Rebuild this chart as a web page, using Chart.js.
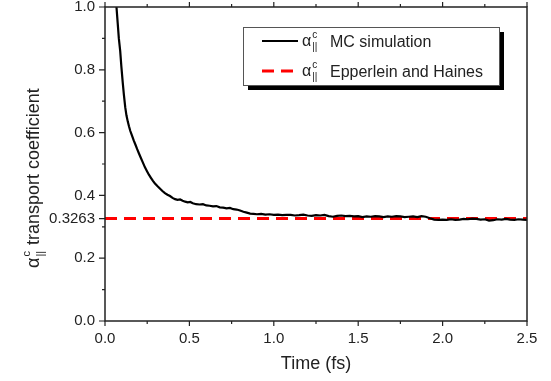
<!DOCTYPE html>
<html lang="en">
<head>
    <meta charset="UTF-8">
    <title>Transport coefficient vs time</title>
    <style>
        html, body { margin: 0; padding: 0; background: #fff; }
        .chart-box { position: relative; width: 551px; height: 381px; }
    </style>
    <script src="https://cdn.jsdelivr.net/npm/chart.js"></script>
</head>
<body>
    <div class="chart-box"><canvas id="coefChart"></canvas></div>

    <script>
        // MC simulation curve
        const timeFs = [
            0.068, 0.075, 0.082, 0.090, 0.097, 0.105, 0.112, 0.120, 0.127, 0.135,
            0.142, 0.150, 0.160, 0.170, 0.180, 0.190, 0.200, 0.212, 0.224, 0.236,
            0.248, 0.260, 0.272, 0.284, 0.296, 0.310, 0.325, 0.340, 0.355, 0.370,
            0.385, 0.400, 0.415, 0.430, 0.445, 0.460, 0.475, 0.490, 0.505, 0.520,
            0.540, 0.560, 0.580, 0.600, 0.620, 0.640, 0.660, 0.680, 0.700, 0.720,
            0.740, 0.760, 0.780, 0.800, 0.820, 0.840, 0.860, 0.880, 0.900, 0.925,
            0.950, 0.975, 1.000, 1.025, 1.050, 1.075, 1.100, 1.125, 1.150, 1.175,
            1.200, 1.225, 1.250, 1.275, 1.300, 1.325, 1.350, 1.375, 1.400, 1.425,
            1.450, 1.475, 1.500, 1.525, 1.550, 1.575, 1.600, 1.625, 1.650, 1.675,
            1.700, 1.725, 1.750, 1.775, 1.800, 1.825, 1.850, 1.875, 1.900, 1.925,
            1.950, 1.975, 2.000, 2.025, 2.050, 2.075, 2.100, 2.125, 2.150, 2.175,
            2.200, 2.225, 2.250, 2.275, 2.300, 2.325, 2.350, 2.375, 2.400, 2.425,
            2.450, 2.475, 2.500
        ];
        const mcValues = [
            1.000, 0.950, 0.900, 0.860, 0.810, 0.760, 0.720, 0.680, 0.655, 0.635,
            0.620, 0.605, 0.590, 0.575, 0.562, 0.548, 0.535, 0.520, 0.505, 0.490,
            0.478, 0.466, 0.456, 0.446, 0.438, 0.430, 0.422, 0.414, 0.407, 0.402,
            0.398, 0.392, 0.388, 0.386, 0.387, 0.383, 0.380, 0.378, 0.379, 0.375,
            0.372, 0.371, 0.372, 0.368, 0.367, 0.365, 0.366, 0.362, 0.361, 0.359,
            0.360, 0.356, 0.355, 0.352, 0.348, 0.345, 0.342, 0.341, 0.340, 0.341,
            0.339, 0.340, 0.338, 0.339, 0.337, 0.338, 0.338, 0.336, 0.337, 0.339,
            0.336, 0.335, 0.337, 0.336, 0.338, 0.334, 0.332, 0.335, 0.336, 0.334,
            0.335, 0.333, 0.334, 0.331, 0.333, 0.332, 0.334, 0.333, 0.331, 0.333,
            0.332, 0.334, 0.333, 0.331, 0.332, 0.333, 0.331, 0.334, 0.332, 0.327,
            0.323, 0.322, 0.323, 0.322, 0.324, 0.322, 0.323, 0.325, 0.324, 0.326,
            0.325, 0.323, 0.324, 0.320, 0.321, 0.324, 0.323, 0.325, 0.323, 0.322,
            0.324, 0.323, 0.322
        ];

        // Epperlein and Haines reference value
        const ehTime = [0, 2.5];
        const ehValue = 0.3263;

        // Axis ticks
        const xMajorTicks = [0, 0.5, 1.0, 1.5, 2.0, 2.5];
        const xMinorTicks = [0.25, 0.75, 1.25, 1.75, 2.25];
        const yMajorTicks = [0, 0.2, 0.4, 0.6, 0.8, 1.0];
        const yMinorTicks = [0.1, 0.3, 0.5, 0.7, 0.9];

        const seriesNames = ['MC simulation', 'Epperlein and Haines'];
        const xTitle = 'Time (fs)';
        const yTitle = 'transport coefficient';

        const FONT = '"Liberation Sans", Arial, sans-serif';
        const INK = '#222';

        // draws alpha with superscript c and subscript || at (x, y) baseline, returns width
        function drawAlpha(ctx, x, y, size) {
            ctx.font = size + 'px ' + FONT;
            ctx.fillText('\u03b1', x, y);
            const w = ctx.measureText('\u03b1').width;
            const small = Math.round(size * 0.62);
            ctx.font = small + 'px ' + FONT;
            ctx.fillText('c', x + w + 1, y - size * 0.5);
            ctx.fillText('||', x + w + 1, y + size * 0.28);
            return w + 1 + ctx.measureText('c').width;
        }

        const framePlugin = {
            id: 'frame',
            afterDatasetsDraw(chart) {
                const { ctx, chartArea: a, scales: { x, y } } = chart;
                ctx.save();
                ctx.strokeStyle = INK;
                ctx.lineWidth = 1.5;
                ctx.strokeRect(a.left, a.top, a.right - a.left, a.bottom - a.top);

                ctx.lineWidth = 1.2;
                ctx.beginPath();
                xMajorTicks.forEach(v => {
                    const px = x.getPixelForValue(v);
                    ctx.moveTo(px, a.bottom); ctx.lineTo(px, a.bottom + 5);
                    ctx.moveTo(px, a.top); ctx.lineTo(px, a.top - 5);
                });
                xMinorTicks.forEach(v => {
                    const px = x.getPixelForValue(v);
                    ctx.moveTo(px, a.bottom); ctx.lineTo(px, a.bottom + 3);
                    ctx.moveTo(px, a.top); ctx.lineTo(px, a.top - 3);
                });
                yMajorTicks.concat([ehValue]).forEach(v => {
                    const py = y.getPixelForValue(v);
                    ctx.moveTo(a.left, py); ctx.lineTo(a.left - 6, py);
                });
                yMinorTicks.forEach(v => {
                    const py = y.getPixelForValue(v);
                    ctx.moveTo(a.left, py); ctx.lineTo(a.left - 3, py);
                });
                ctx.stroke();

                // legend box with shadow
                const lx = 243, ly = 27, lw = 256, lh = 58;
                ctx.fillStyle = '#000';
                ctx.fillRect(lx + 5, ly + 5, lw, lh);
                ctx.fillStyle = '#fff';
                ctx.fillRect(lx, ly, lw, lh);
                ctx.strokeStyle = '#555';
                ctx.lineWidth = 1;
                ctx.strokeRect(lx + 0.5, ly + 0.5, lw, lh);

                const rows = [41, 71];
                chart.data.datasets.forEach((ds, i) => {
                    const ry = rows[i];
                    ctx.strokeStyle = ds.borderColor;
                    ctx.lineWidth = ds.borderWidth;
                    ctx.setLineDash(ds.borderDash || []);
                    ctx.beginPath();
                    ctx.moveTo(262, ry); ctx.lineTo(298, ry);
                    ctx.stroke();
                    ctx.setLineDash([]);
                    ctx.fillStyle = INK;
                    ctx.textBaseline = 'alphabetic';
                    ctx.textAlign = 'left';
                    drawAlpha(ctx, 302, ry + 5, 16);
                    ctx.font = '16px ' + FONT;
                    ctx.fillText(seriesNames[i], 330, ry + 6);
                });

                // rotated y title
                ctx.translate(39, 268);
                ctx.rotate(-Math.PI / 2);
                ctx.fillStyle = INK;
                const aw = drawAlpha(ctx, 0, 0, 18);
                ctx.font = '18px ' + FONT;
                ctx.fillText(yTitle, aw + 6, 0);
                ctx.restore();
            }
        };

        new Chart(document.getElementById('coefChart'), {
            type: 'line',
            data: {
                datasets: [{
                    label: seriesNames[0],
                    data: timeFs.map((t, i) => ({ x: t, y: mcValues[i] })),
                    borderColor: '#000',
                    borderWidth: 2.2,
                    pointRadius: 0,
                    tension: 0
                }, {
                    label: seriesNames[1],
                    data: ehTime.map(t => ({ x: t, y: ehValue })),
                    borderColor: '#ff0000',
                    borderWidth: 3,
                    borderDash: [12, 7],
                    pointRadius: 0
                }]
            },
            options: {
                responsive: true,
                maintainAspectRatio: false,
                animation: false,
                layout: { padding: { top: 7, right: 24, left: 0, bottom: 0 } },
                plugins: { legend: { display: false }, tooltip: { enabled: false } },
                scales: {
                    x: {
                        type: 'linear',
                        min: 0,
                        max: 2.5,
                        grid: { display: false, drawTicks: false },
                        border: { display: false },
                        afterBuildTicks: s => { s.ticks = xMajorTicks.map(v => ({ value: v })); },
                        afterFit: s => { s.height = 60; s.paddingLeft = 0; s.paddingRight = 0; },
                        ticks: {
                            color: INK,
                            padding: 9,
                            maxRotation: 0,
                            autoSkip: false,
                            font: { family: FONT, size: 15 },
                            callback: v => v.toFixed(1)
                        },
                        title: {
                            display: true,
                            text: xTitle,
                            color: INK,
                            font: { family: FONT, size: 18 },
                            padding: { top: 0, bottom: 6 }
                        }
                    },
                    y: {
                        min: 0,
                        max: 1,
                        grid: { display: false, drawTicks: false },
                        border: { display: false },
                        afterBuildTicks: s => {
                            s.ticks = yMajorTicks.concat([ehValue]).sort((a, b) => a - b).map(v => ({ value: v }));
                        },
                        afterFit: s => { s.width = 105; s.paddingTop = 0; s.paddingBottom = 0; },
                        ticks: {
                            color: INK,
                            padding: 10,
                            autoSkip: false,
                            font: { family: FONT, size: 15 },
                            callback: v => v === ehValue ? String(ehValue) : v.toFixed(1)
                        }
                    }
                }
            },
            plugins: [framePlugin]
        });
    </script>
</body>
</html>
